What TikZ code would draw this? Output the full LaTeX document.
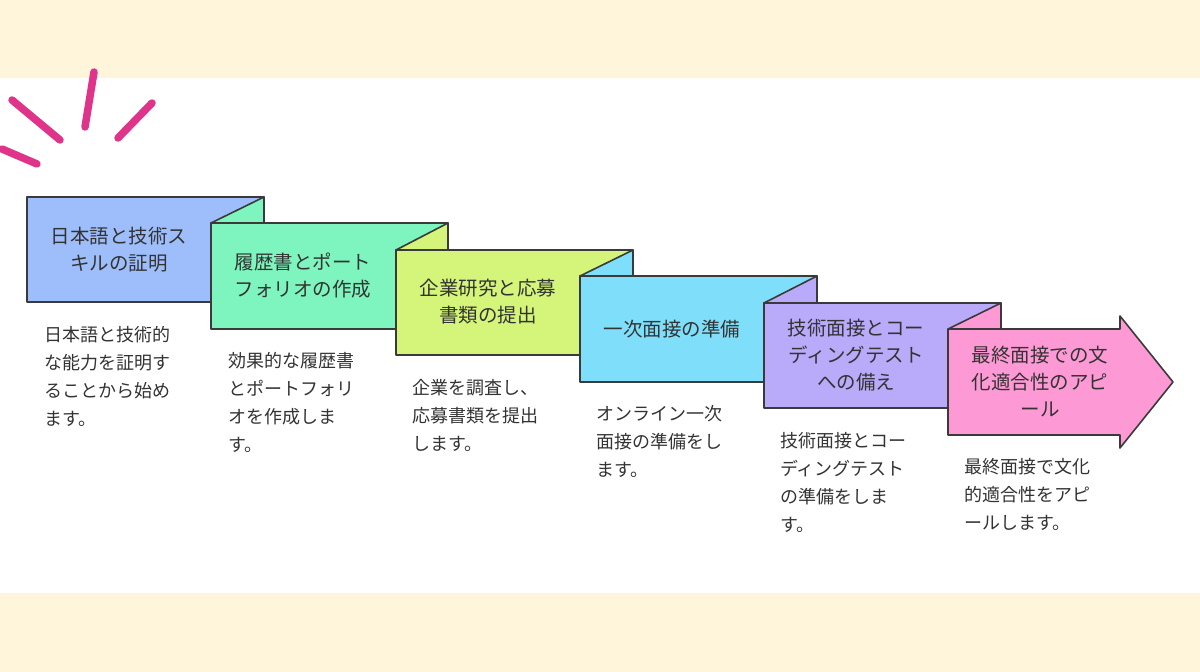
\documentclass[tikz,border=0pt]{standalone}
\usepackage{fontspec}
\newfontfamily\jpfont{Noto Sans CJK JP}
\definecolor{cream}{HTML}{FFF5DA}
\definecolor{edge}{HTML}{3A3A3A}
\definecolor{spark}{HTML}{E0338A}
\definecolor{txt}{HTML}{333333}
\definecolor{cA}{HTML}{9DBEFB}
\definecolor{cB}{HTML}{7EF5BE}
\definecolor{cC}{HTML}{D4F57A}
\definecolor{cD}{HTML}{7FDFFA}
\definecolor{cE}{HTML}{B9AAFA}
\definecolor{cF}{HTML}{FD9AD6}
\tikzset{
  stepbox/.style={draw=edge,line width=1.6pt,line join=round},
  title/.style={font=\jpfont\fontsize{19.5}{27}\selectfont,text=txt,align=center},
  desc/.style={font=\jpfont\fontsize{18}{28}\selectfont,text=txt,align=left,anchor=north west,inner sep=0pt},
  sparkline/.style={spark,line width=7.5pt,line cap=round}
}
\begin{document}
\begin{tikzpicture}[x=1pt,y=-1pt]
\useasboundingbox (0,0) rectangle (1200,672);
% Background bands
\fill[cream] (0,0) rectangle (1200,78);
\fill[cream] (0,593) rectangle (1200,672);

% Sparks
\draw[sparkline] (12,100) -- (60,140);
\draw[sparkline] (94,72) -- (85,127);
\draw[sparkline] (152,103) -- (118,138);
\draw[sparkline] (2,149) -- (37,164);

% Steps
\filldraw[stepbox,fill=cA] (27,197) rectangle (264,302);
\node[title] (t1) at (119,250) {日本語と技術ス\\キルの証明};
\node[desc] (d1) at (44,326) {日本語と技術的\\な能力を証明す\\ることから始め\\ます。};

\filldraw[stepbox,fill=cB] (211,223) -- (264,197) -- (264,223) -- cycle;
\filldraw[stepbox,fill=cB] (211,223) rectangle (448,329);
\node[title] (t2) at (303,276) {履歴書とポート\\フォリオの作成};
\node[desc] (d2) at (228,352) {効果的な履歴書\\とポートフォリ\\オを作成しま\\す。};

\filldraw[stepbox,fill=cC] (396,250) -- (448,223) -- (448,250) -- cycle;
\filldraw[stepbox,fill=cC] (396,250) rectangle (633,355);
\node[title] (t3) at (488,302) {企業研究と応募\\書類の提出};
\node[desc] (d3) at (412,379) {企業を調査し、\\応募書類を提出\\します。};

\filldraw[stepbox,fill=cD] (580,276) -- (633,250) -- (633,276) -- cycle;
\filldraw[stepbox,fill=cD] (580,276) rectangle (817,382);
\node[title] (t4) at (672,329) {一次面接の準備};
\node[desc] (d4) at (596,405) {オンライン一次\\面接の準備をし\\ます。};

\filldraw[stepbox,fill=cE] (764,303) -- (817,276) -- (817,303) -- cycle;
\filldraw[stepbox,fill=cE] (764,303) rectangle (1001,408);
\node[title] (t5) at (856,355) {技術面接とコー\\ディングテスト\\への備え};
\node[desc] (d5) at (780,432) {技術面接とコー\\ディングテスト\\の準備をしま\\す。};

\filldraw[stepbox,fill=cF] (948,329) -- (1001,303) -- (1001,329) -- cycle;
\filldraw[stepbox,fill=cF] (948,329) -- (1120,329) -- (1120,316) -- (1173,382)
  -- (1120,448) -- (1120,435) -- (948,435) -- cycle;
\node[title] (t6) at (1040,382) {最終面接での文\\化適合性のアピ\\ール};
\node[desc] (d6) at (964,458) {最終面接で文化\\的適合性をアピ\\ールします。};
\end{tikzpicture}
\end{document}
